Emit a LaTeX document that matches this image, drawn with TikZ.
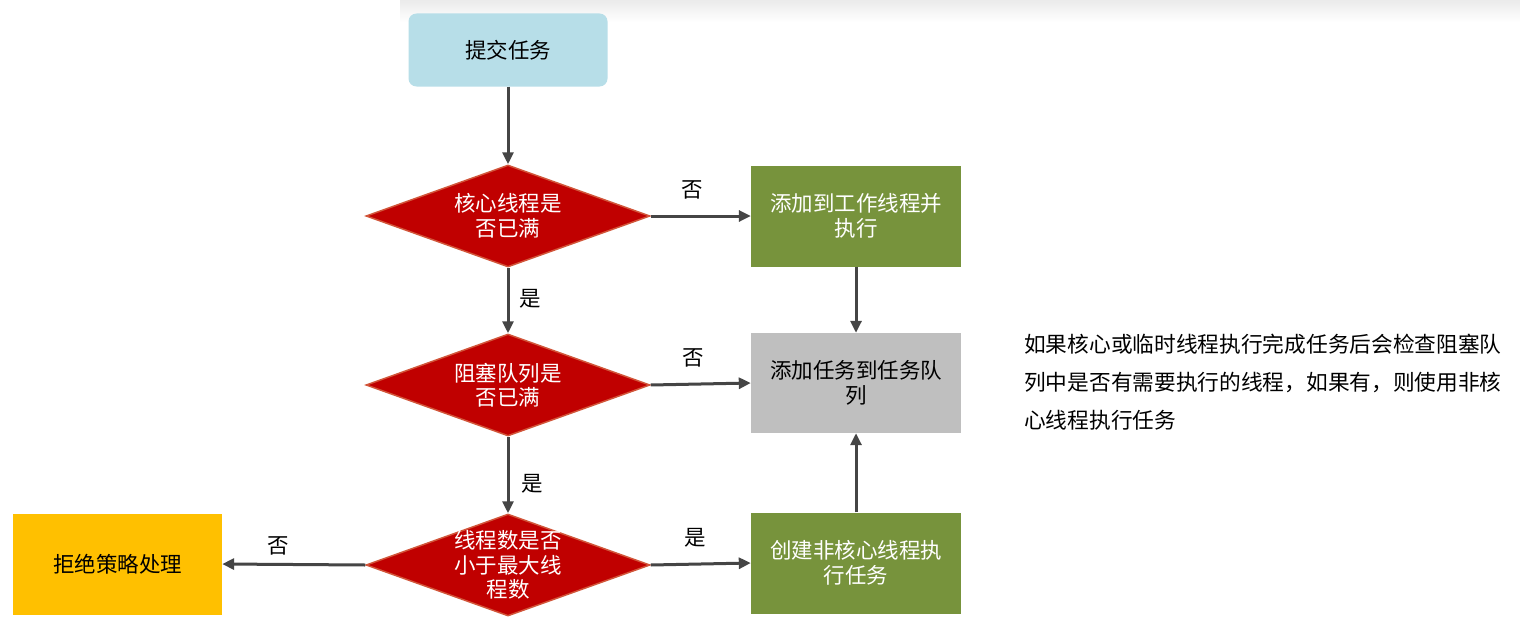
\documentclass[tikz,border=0pt]{standalone}
\usepackage{fontspec}
\setmainfont{Noto Sans CJK SC}
\usetikzlibrary{shapes.geometric,arrows.meta}
\definecolor{boxblue}{HTML}{B7DEE8}
\definecolor{decred}{HTML}{C00000}
\definecolor{decborder}{HTML}{D2553A}
\definecolor{boxgreen}{HTML}{77933C}
\definecolor{boxgray}{HTML}{BFBFBF}
\definecolor{boxyellow}{HTML}{FFC000}
\definecolor{arrowgray}{HTML}{454545}
\begin{document}
\begin{tikzpicture}[x=1pt,y=-1pt,
  every node/.style={font=\fontsize{21.5}{24.5}\selectfont},
  rbox/.style={draw=none,minimum width=210pt,minimum height=101pt,inner sep=0pt,align=center},
  decision/.style={diamond,draw=decborder,line width=1.5pt,fill=decred,minimum width=284pt,minimum height=102pt,inner sep=0pt},
  dtext/.style={text=white,align=center,inner sep=0pt},
  conn/.style={draw=arrowgray,line width=3pt,-{Triangle[length=12pt,width=11pt]}},
  lbl/.style={text=black,inner sep=0pt}
]
\useasboundingbox (0,0) rectangle (1520,634);
\fill[white] (0,0) rectangle (1520,634);
\shade[top color=black!8,bottom color=white] (400,0) rectangle (1520,22);

\node[rbox,fill=boxblue,rounded corners=8pt,minimum width=199pt,minimum height=73pt] (start) at (508,50) {提交任务};

\node[decision] (d1) at (508,216) {};
\node[dtext] (d1t) at (d1.center) {核心线程是\\否已满};
\node[decision] (d2) at (508,385) {};
\node[dtext] (d2t) at (d2.center) {阻塞队列是\\否已满};
\node[decision] (d3) at (508,565) {};
\node[dtext] (d3t) at (d3.center) {线程数是否\\小于最大线\\程数};

\node[rbox,fill=boxgreen,text=white] (g1) at (856,216) {添加到工作线程并\\执行};
\node[rbox,fill=boxgray,text=black,minimum height=100pt] (q) at (856,383) {添加任务到任务队\\列};
\node[rbox,fill=boxgreen,text=white] (g2) at (856,563) {创建非核心线程执\\行任务};
\node[rbox,fill=boxyellow,text=black,minimum width=209pt] (rej) at (117.5,564) {拒绝策略处理};

\draw[conn] (start.south) -- (d1.north);
\draw[conn] (d1.east) -- (g1.west);
\draw[conn] (d1.south) -- (d2.north);
\draw[conn] (d2.east) -- (q.west);
\draw[conn] (g1.south) -- (q.north);
\draw[conn] (g2.north) -- (q.south);
\draw[conn] (d2.south) -- (d3.north);
\draw[conn] (d3.east) -- (g2.west);
\draw[conn] (d3.west) -- (rej.east);

\node[lbl] (l1) at (692,190) {否};
\node[lbl] (l2) at (530,299) {是};
\node[lbl] (l3) at (693,358) {否};
\node[lbl] (l4) at (532,484) {是};
\node[lbl] (l5) at (695,538) {是};
\node[lbl] (l6) at (278,546) {否};

\node[anchor=north west,align=left,inner sep=0pt,font=\fontsize{21.7}{38}\selectfont] (note) at (1024,334) {如果核心或临时线程执行完成任务后会检查阻塞队\\列中是否有需要执行的线程，如果有，则使用非核\\心线程执行任务};
\end{tikzpicture}
\end{document}
